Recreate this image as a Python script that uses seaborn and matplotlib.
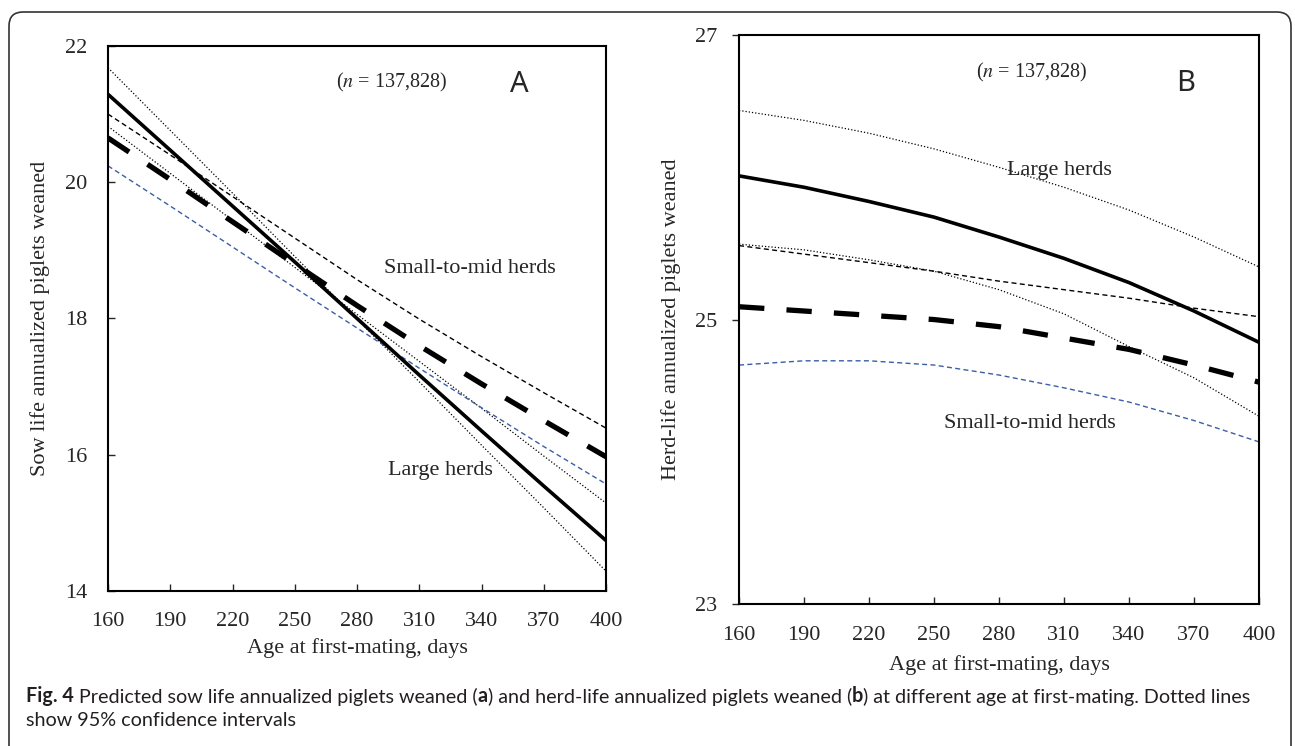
import matplotlib
matplotlib.use("Agg")
import matplotlib.pyplot as plt
from matplotlib.patches import FancyBboxPatch
from matplotlib.transforms import IdentityTransform
import pandas as pd
import seaborn as sns

# age at first mating (days)
ages = [160, 190, 220, 250, 280, 310, 340, 370, 400]
x_ticks = [160, 190, 220, 250, 280, 310, 340, 370, 400]

# panel A: sow life annualized piglets weaned
a_large = [21.29, 20.47, 19.65, 18.83, 18.00, 17.17, 16.35, 15.54, 14.74]
a_large_ci1 = [21.68, 20.76, 19.84, 18.91, 17.99, 17.07, 16.14, 15.22, 14.29]
a_large_ci2 = [20.82, 20.13, 19.44, 18.75, 18.06, 17.37, 16.68, 15.98, 15.29]
a_small = [20.65, 20.04, 19.42, 18.80, 18.19, 17.60, 17.04, 16.50, 15.97]
a_small_hi = [21.00, 20.40, 19.79, 19.18, 18.57, 17.99, 17.44, 16.91, 16.39]
a_small_lo = [20.24, 19.65, 19.05, 18.45, 17.86, 17.27, 16.69, 16.12, 15.57]
a_yticks = [14, 16, 18, 20, 22]

# panel B: herd-life annualized piglets weaned
b_large = [26.01, 25.93, 25.83, 25.72, 25.58, 25.43, 25.26, 25.06, 24.84]
b_large_hi = [26.47, 26.40, 26.31, 26.20, 26.07, 25.93, 25.77, 25.58, 25.37]
b_large_lo = [25.53, 25.49, 25.42, 25.34, 25.21, 25.04, 24.81, 24.59, 24.32]
b_small = [25.09, 25.06, 25.03, 25.00, 24.95, 24.87, 24.79, 24.68, 24.56]
b_small_hi = [25.52, 25.46, 25.40, 25.34, 25.27, 25.21, 25.15, 25.08, 25.02]
b_small_lo = [24.68, 24.71, 24.71, 24.68, 24.61, 24.52, 24.42, 24.29, 24.14]
b_yticks = [23, 25, 27]

sns.set_style("white")
plt.rcParams["font.family"] = ["Liberation Serif", "DejaVu Serif"]
plt.rcParams["mathtext.fontset"] = "stix"

palette = {"large": "black", "large_ci1": "black", "large_ci2": "black",
           "small": "black", "small_hi": "black", "small_lo": "#3b5ea6"}
dashes = {"large": "", "large_ci1": (1, 1.6), "large_ci2": (1, 1.6),
          "small": (4.8, 4.2), "small_hi": (3.6, 2.4), "small_lo": (3.6, 2.4)}
sizes = {"large": 2.6, "large_ci1": 0.9, "large_ci2": 0.9,
         "small": 3.8, "small_hi": 1.0, "small_lo": 1.0}


def long_frame(series):
    frames = [pd.DataFrame({"age": ages, "value": v, "line": k}) for k, v in series.items()]
    return pd.concat(frames, ignore_index=True)


df_a = long_frame({"large_ci1": a_large_ci1, "large_ci2": a_large_ci2, "small_hi": a_small_hi,
                   "small_lo": a_small_lo, "large": a_large, "small": a_small})
df_b = long_frame({"large_ci1": b_large_hi, "large_ci2": b_large_lo, "small_hi": b_small_hi,
                   "small_lo": b_small_lo, "large": b_large, "small": b_small})

fig = plt.figure(figsize=(12.95, 7.46), dpi=100)
ax_a = fig.add_axes([0.0834, 0.2078, 0.3846, 0.7306])
ax_b = fig.add_axes([0.5707, 0.1903, 0.4015, 0.7627])

for ax, df in [(ax_a, df_a), (ax_b, df_b)]:
    sns.lineplot(data=df, x="age", y="value", hue="line", style="line", size="line",
                 palette=palette, dashes=dashes, sizes=sizes, legend=False, ax=ax)
    for line in ax.lines:
        line.set_dash_capstyle("butt")
    ax.set_xlim(160, 400)
    ax.set_xticks(x_ticks)
    for s in ax.spines.values():
        s.set_visible(True)
        s.set_color("black")
        s.set_linewidth(1.5)
    ax.set_xlabel("Age at first-mating, days", fontsize=16)

ax_a.tick_params(axis="x", direction="in", length=5, width=1, pad=15, labelsize=16, bottom=True)
ax_a.set_ylim(14, 22)
ax_a.set_yticks(a_yticks)
ax_a.tick_params(axis="y", direction="in", length=5, width=1, pad=15, labelsize=16, left=True)
ax_a.set_ylabel("Sow life annualized piglets weaned", fontsize=16)
ax_a.yaxis.set_label_coords(-0.116, 0.5)
ax_a.xaxis.set_label_coords(0.5, -0.087)

ax_b.tick_params(axis="x", direction="in", length=5, width=1, pad=16, labelsize=16, bottom=True)
ax_b.set_ylim(23, 27)
ax_b.set_yticks(b_yticks)
ax_b.tick_params(axis="y", direction="out", length=5, width=1, pad=11, labelsize=16, left=True)
ax_b.set_ylabel("Herd-life annualized piglets weaned", fontsize=16)
ax_b.yaxis.set_label_coords(-0.112, 0.5)
ax_b.xaxis.set_label_coords(0.5, -0.090)

# annotations
ax_a.text(296.6, 21.46, "($n$ = 137,828)", fontsize=14.5, ha="center", va="center")
ax_a.text(358, 21.43, "A", fontsize=21, ha="center", va="center", family=["Noto Sans", "DejaVu Sans"])
ax_a.text(334.2, 18.73, "Small-to-mid herds", fontsize=16, ha="center", va="center")
ax_a.text(320.2, 15.77, "Large herds", fontsize=16, ha="center", va="center")

ax_b.text(294.9, 26.74, "($n$ = 137,828)", fontsize=14.5, ha="center", va="center")
ax_b.text(366.3, 26.66, "B", fontsize=21, ha="center", va="center", family=["Noto Sans", "DejaVu Sans"])
ax_b.text(307.8, 26.05, "Large herds", fontsize=16, ha="center", va="center")
ax_b.text(294.3, 24.27, "Small-to-mid herds", fontsize=16, ha="center", va="center")

# caption, built from pieces so bold parts can be mixed in
cap_font = ["Lato", "DejaVu Sans"]
cap_size = 14.2
cap_color = "#231f20"
pieces = [("Fig. 4", "bold"), (" Predicted sow life annualized piglets weaned (", "normal"),
          ("a", "bold"), (") and herd-life annualized piglets weaned (", "normal"),
          ("b", "bold"), (") at different age at first-mating. Dotted lines", "normal")]
prev = fig.text(0.0201, 0.0665, pieces[0][0], fontsize=cap_size, fontweight=pieces[0][1],
                family=cap_font, color=cap_color, va="center", ha="left")
for txt, weight in pieces[1:]:
    prev = ax_a.annotate(txt, xy=(1, 0), xycoords=prev, va="bottom", ha="left",
                         fontsize=cap_size, fontweight=weight, family=cap_font, color=cap_color)
fig.text(0.0201, 0.0345, "show 95% confidence intervals", fontsize=cap_size,
         family=cap_font, color=cap_color, va="center", ha="left")

# rounded frame, open at the bottom
frame = FancyBboxPatch((9, -30), 1282, 764, boxstyle="round,pad=0,rounding_size=14",
                       transform=IdentityTransform(), facecolor="none",
                       edgecolor="#333333", linewidth=1.2)
fig.patches.append(frame)

fig.savefig("out.png", dpi=100)
